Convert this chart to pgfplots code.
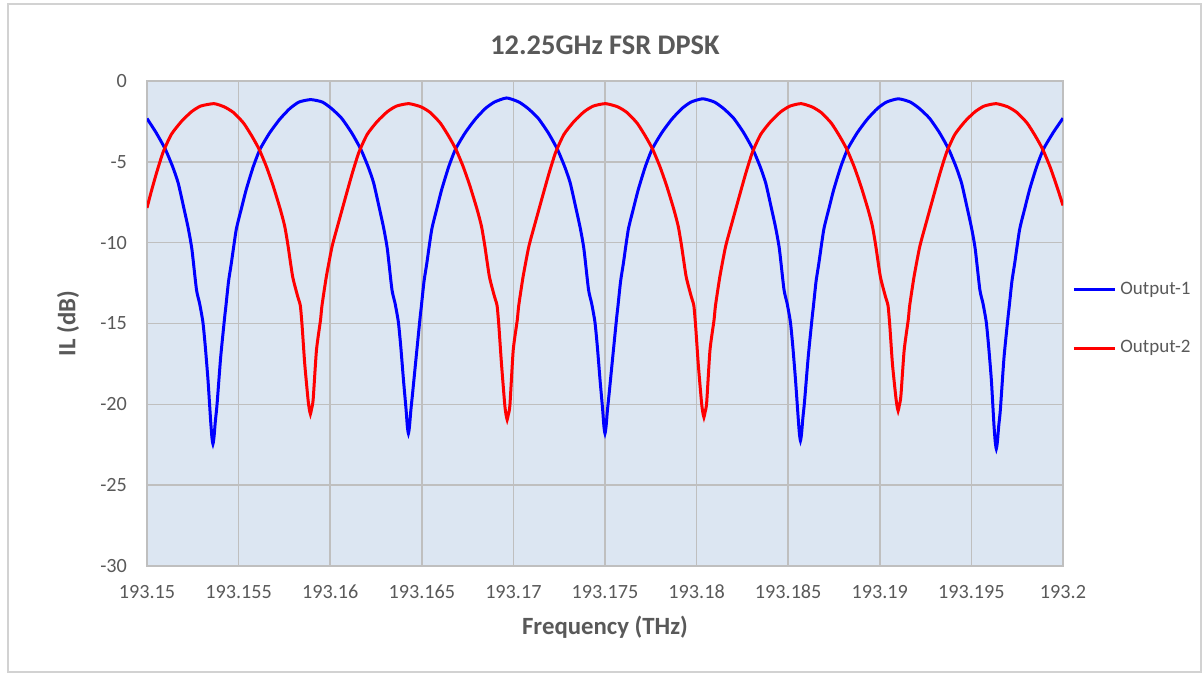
\documentclass[border=0pt]{standalone}
\usepackage{fontspec}
\setmainfont{Carlito}
\usepackage{pgfplots}
\usepackage{pgfplotstable}
\pgfplotsset{compat=1.18}

\definecolor{plotbg}{RGB}{220,230,242}
\definecolor{gridgray}{RGB}{191,191,191}
\definecolor{txtgray}{RGB}{89,89,89}

% x = offset from 193.15 THz in GHz, il = insertion loss in dB
\pgfplotstableread{
f il
0 -2.32
0.5 -3.2
1.0 -4.22
1.4 -5.3
1.7 -6.3
2.0 -7.8
2.25 -9.1
2.45 -10.4
2.7 -12.9
2.87 -13.75
3.05 -14.9
3.18 -16.4
3.33 -18.5
3.47 -20.95
3.54 -22.0
3.6 -22.45
3.66 -22.0
3.73 -21.05
3.82 -20.05
4.02 -17.1
4.24 -14.6
4.3 -14.0
4.45 -12.4
4.6 -11.3
4.87 -9.2
5.15 -7.9
5.42 -6.7
5.8 -5.3
6.17 -4.22
6.7 -3.2
7.25 -2.36
7.8 -1.7
8.3 -1.3
8.935 -1.15
9.57 -1.3
10.07 -1.7
10.62 -2.3
11.17 -3.2
11.67 -4.22
12.07 -5.3
12.37 -6.3
12.67 -7.8
12.92 -9.1
13.12 -10.4
13.37 -12.9
13.54 -13.75
13.72 -14.9
13.85 -16.4
14.0 -18.5
14.14 -20.3
14.21 -21.35
14.27 -21.8
14.33 -21.35
14.4 -20.4
14.49 -19.4
14.69 -17.1
14.91 -14.6
14.97 -14.0
15.12 -12.4
15.27 -11.3
15.54 -9.2
15.82 -7.9
16.09 -6.7
16.47 -5.3
16.84 -4.22
17.37 -3.2
17.92 -2.36
18.47 -1.7
18.97 -1.3
19.635 -1.05
20.3 -1.3
20.8 -1.7
21.35 -2.3
21.9 -3.2
22.4 -4.22
22.8 -5.3
23.1 -6.3
23.4 -7.8
23.65 -9.1
23.85 -10.4
24.1 -12.9
24.27 -13.75
24.45 -14.9
24.58 -16.4
24.73 -18.5
24.87 -20.3
24.94 -21.35
25.0 -21.8
25.06 -21.35
25.13 -20.4
25.22 -19.4
25.42 -17.1
25.64 -14.6
25.7 -14.0
25.85 -12.4
26.0 -11.3
26.27 -9.2
26.55 -7.9
26.82 -6.7
27.2 -5.3
27.57 -4.22
28.1 -3.2
28.65 -2.36
29.2 -1.7
29.7 -1.3
30.335 -1.1
30.97 -1.3
31.47 -1.7
32.02 -2.3
32.57 -3.2
33.07 -4.22
33.47 -5.3
33.77 -6.3
34.07 -7.8
34.32 -9.1
34.52 -10.4
34.77 -12.9
34.94 -13.75
35.12 -14.9
35.25 -16.4
35.4 -18.5
35.54 -20.75
35.61 -21.8
35.67 -22.25
35.73 -21.8
35.8 -20.85
35.89 -19.85
36.09 -17.1
36.31 -14.6
36.37 -14.0
36.52 -12.4
36.67 -11.3
36.94 -9.2
37.22 -7.9
37.49 -6.7
37.87 -5.3
38.24 -4.22
38.77 -3.2
39.32 -2.36
39.87 -1.7
40.37 -1.3
41.015 -1.1
41.66 -1.3
42.16 -1.7
42.71 -2.3
43.26 -3.2
43.76 -4.22
44.16 -5.3
44.46 -6.3
44.76 -7.8
45.01 -9.1
45.21 -10.4
45.46 -12.9
45.63 -13.75
45.81 -14.9
45.94 -16.4
46.09 -18.5
46.23 -21.25
46.3 -22.3
46.36 -22.75
46.42 -22.3
46.49 -21.35
46.58 -20.35
46.78 -17.1
47.0 -14.6
47.06 -14.0
47.21 -12.4
47.36 -11.3
47.63 -9.2
47.91 -7.9
48.18 -6.7
48.56 -5.3
48.93 -4.22
49.46 -3.2
50.0 -2.3
}\outone

\pgfplotstableread{
f il
0 -7.85
0.23 -6.85
0.53 -5.65
0.88 -4.4
1.33 -3.3
1.88 -2.5
2.43 -1.9
2.93 -1.55
3.65 -1.4
4.22 -1.6
4.72 -1.95
5.27 -2.6
5.72 -3.4
6.12 -4.22
6.52 -5.3
6.89 -6.5
7.28 -7.95
7.52 -9.0
7.7 -10.2
7.95 -12.1
8.22 -13.3
8.37 -13.9
8.47 -15.2
8.61 -17.5
8.79 -19.7
8.86 -20.3
8.92 -20.6
8.98 -20.3
9.07 -19.7
9.25 -16.65
9.47 -14.8
9.55 -13.9
9.79 -12.1
10.1 -10.25
10.42 -8.9
10.7 -7.75
10.92 -6.85
11.22 -5.65
11.57 -4.4
12.02 -3.3
12.57 -2.5
13.12 -1.9
13.62 -1.55
14.29 -1.4
14.96 -1.6
15.46 -1.95
16.01 -2.6
16.46 -3.4
16.86 -4.22
17.26 -5.3
17.63 -6.5
18.02 -7.95
18.26 -9.0
18.44 -10.2
18.69 -12.1
18.96 -13.3
19.11 -13.9
19.21 -15.2
19.35 -17.5
19.53 -20.05
19.6 -20.65
19.66 -20.95
19.72 -20.65
19.81 -20.05
19.99 -16.65
20.21 -14.8
20.29 -13.9
20.53 -12.1
20.84 -10.25
21.16 -8.9
21.44 -7.75
21.66 -6.85
21.96 -5.65
22.31 -4.4
22.76 -3.3
23.31 -2.5
23.86 -1.9
24.36 -1.55
25.03 -1.4
25.7 -1.6
26.2 -1.95
26.75 -2.6
27.2 -3.4
27.6 -4.22
28.0 -5.3
28.37 -6.5
28.76 -7.95
29.0 -9.0
29.18 -10.2
29.43 -12.1
29.7 -13.3
29.85 -13.9
29.95 -15.2
30.09 -17.5
30.27 -19.9
30.34 -20.5
30.4 -20.8
30.46 -20.5
30.55 -19.9
30.73 -16.65
30.95 -14.8
31.03 -13.9
31.27 -12.1
31.58 -10.25
31.9 -8.9
32.18 -7.75
32.4 -6.85
32.7 -5.65
33.05 -4.4
33.5 -3.3
34.05 -2.5
34.6 -1.9
35.1 -1.55
35.7 -1.4
36.3 -1.6
36.8 -1.95
37.35 -2.6
37.8 -3.4
38.2 -4.22
38.6 -5.3
38.97 -6.5
39.36 -7.95
39.6 -9.0
39.78 -10.2
40.03 -12.1
40.3 -13.3
40.45 -13.9
40.55 -15.2
40.69 -17.5
40.87 -19.5
40.94 -20.1
41.0 -20.4
41.06 -20.1
41.15 -19.5
41.33 -16.65
41.55 -14.8
41.63 -13.9
41.87 -12.1
42.18 -10.25
42.5 -8.9
42.78 -7.75
43.0 -6.85
43.3 -5.65
43.65 -4.4
44.1 -3.3
44.65 -2.5
45.2 -1.9
45.7 -1.55
46.35 -1.4
46.99 -1.6
47.49 -1.95
48.04 -2.6
48.49 -3.4
48.89 -4.22
49.29 -5.3
49.66 -6.5
50.0 -7.7
}\outtwo

\begin{document}
\begin{tikzpicture}
\useasboundingbox (-73.5pt,-54.5pt) rectangle (527.5pt,283pt);
\draw[gridgray!70, line width=0.6pt] (-69.5pt,-53pt) rectangle (527pt,281pt);
\begin{axis}[
    scale only axis,
    width=458pt,
    height=242.5pt,
    xmin=0, xmax=50,
    ymin=-30, ymax=0,
    xtick={0,5,...,50},
    xticklabels={193.15,193.155,193.16,193.165,193.17,193.175,193.18,193.185,193.19,193.195,193.2},
    ytick={-30,-25,...,0},
    /pgf/number format/assume math mode=true,
    major tick length=0pt,
    grid=major,
    grid style={gridgray, line width=0.75pt},
    axis line style={gridgray, line width=0.75pt},
    axis background/.style={fill=plotbg},
    tick label style={font=\fontsize{10.1}{12}\selectfont, text=txtgray},
    xticklabel style={yshift=-6pt},
    yticklabel style={xshift=-6.5pt},
    title={12.25GHz FSR DPSK},
    title style={font=\fontsize{14.2}{16}\selectfont\bfseries, text=txtgray,
        at={(axis description cs:0.5,1.0495)}, anchor=center},
    xlabel={Frequency (THz)},
    xlabel style={font=\fontsize{12.4}{14}\selectfont\bfseries, text=txtgray,
        at={(axis description cs:0.5,-0.1258)}, anchor=center},
    ylabel={IL (dB)},
    ylabel style={font=\fontsize{12.4}{14}\selectfont\bfseries, text=txtgray,
        at={(axis description cs:-0.0862,0.5)}, anchor=center},
    legend style={at={(axis description cs:1,0.509)}, anchor=west, xshift=4.5pt,
        draw=none, fill=none, font=\fontsize{9.5}{11}\selectfont, text=txtgray,
        row sep=17.5pt, inner sep=0pt},
    legend cell align=left,
    legend image code/.code={\draw[#1, line width=1.5pt] (0pt,0pt) -- (20.5pt,0pt);},
    clip=true,
]
\addplot[blue, line width=1.5pt, smooth, tension=0.35] table[x=f, y=il] {\outone};
\addplot[red, line width=1.5pt, smooth, tension=0.35] table[x=f, y=il] {\outtwo};
\legend{Output-1, Output-2}
\end{axis}
\end{tikzpicture}
\end{document}
